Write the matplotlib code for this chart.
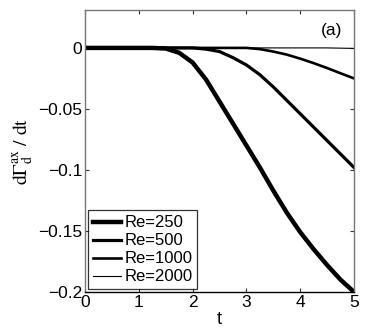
import matplotlib.pyplot as plt
import numpy as np

plt.rcParams['font.family'] = ['Liberation Sans', 'DejaVu Sans']
plt.rcParams['mathtext.fontset'] = 'stix'

# time grid and dGamma/dt curves
t = np.array([0, 0.25, 0.5, 0.75, 1.0, 1.25, 1.5, 1.75, 2.0, 2.25, 2.5,
              2.75, 3.0, 3.25, 3.5, 3.75, 4.0, 4.25, 4.5, 4.75, 5.0])
re250 = [0, 0, 0, 0, 0, 0, -0.0005, -0.004, -0.012, -0.026, -0.044,
         -0.062, -0.080, -0.098, -0.117, -0.135, -0.151, -0.165, -0.178, -0.190, -0.200]
re500 = [0, 0, 0, 0, 0, 0, 0, 0, 0, -0.001, -0.003,
         -0.008, -0.014, -0.022, -0.032, -0.043, -0.054, -0.065, -0.076, -0.087, -0.098]
re1000 = [0, 0, 0, 0, 0, 0, 0, 0, 0, 0, 0,
          0, 0, -0.001, -0.003, -0.0055, -0.0088, -0.0125, -0.0165, -0.0208, -0.025]
re2000 = [0, 0, 0, 0, 0, 0, 0, 0, 0, 0, 0,
          0, 0, 0, 0, 0, 0, 0, 0, -0.0002, -0.0004]

labels = ['Re=250', 'Re=500', 'Re=1000', 'Re=2000']
widths = [3.2, 2.3, 1.9, 0.8]
xticks = [0, 1, 2, 3, 4, 5]
yticks = [0, -0.05, -0.1, -0.15, -0.2]
ytick_labels = ['0', '\u22120.05', '\u22120.1', '\u22120.15', '\u22120.2']

fig = plt.figure(figsize=(3.65, 3.36), dpi=100)
ax = fig.add_axes([0.233, 0.131, 0.737, 0.839])

for y, lab, lw in zip([re250, re500, re1000, re2000], labels, widths):
    ax.plot(t, y, color='black', lw=lw, label=lab, solid_joinstyle='round')

ax.set_xlim(0, 5)
ax.set_ylim(-0.2, 0.031)
ax.set_xticks(xticks)
ax.set_yticks(yticks)
ax.set_yticklabels(ytick_labels)
ax.tick_params(direction='in', top=True, right=True, labelsize=12.5,
               length=3, width=0.8, color='#333333', pad=2)
for name, s in ax.spines.items():
    s.set_color('black' if name == 'bottom' else '#777777')
    s.set_linewidth(1.0)

ax.set_xlabel('t', fontsize=13, labelpad=1)
ax.set_ylabel(r'$\mathrm{d}\Gamma_{\mathrm{d}}^{\mathrm{ax}}\ /\ \mathrm{dt}$',
              fontsize=14, labelpad=2)
ax.text(0.915, 0.929, '(a)', transform=ax.transAxes, fontsize=12.5,
        ha='center', va='center')

leg = ax.legend(loc='lower left', fontsize=12, frameon=True, fancybox=False,
                edgecolor='black', handlelength=1.7, handletextpad=0.2,
                labelspacing=0.18, borderpad=0.3, borderaxespad=0.15)
leg.get_frame().set_linewidth(0.9)

fig.savefig('out.png', dpi=100)
